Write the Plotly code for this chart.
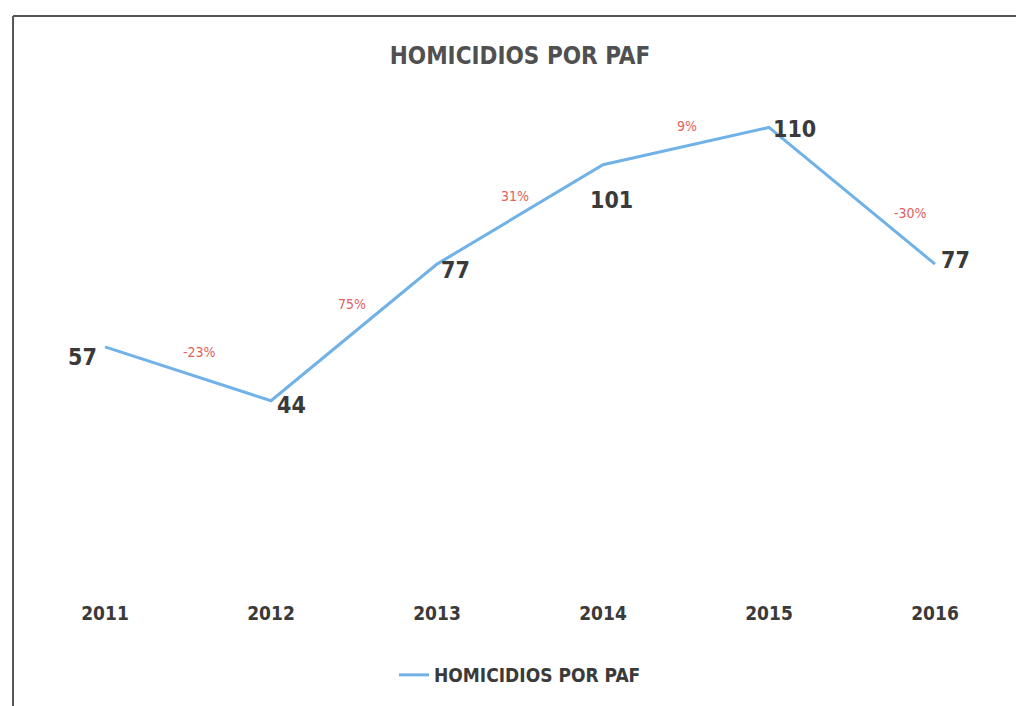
import plotly.graph_objects as go

years = [2011, 2012, 2013, 2014, 2015, 2016]
homicidios = [57, 44, 77, 101, 110, 77]
cambios = ['-23%', '75%', '31%', '9%', '-30%']

font_fam = "DejaVu Sans Condensed, Liberation Sans Narrow, Arial Narrow, sans-serif"

fig = go.Figure()
fig.add_trace(go.Scatter(
    x=years, y=homicidios,
    mode='lines',
    name='<b>HOMICIDIOS POR PAF</b>',
    line=dict(color='#70b2e8', width=3),
    cliponaxis=False,
))

# etiquetas de valor
val_shifts = [(-23, -10), (20, -4), (18, -6), (8, -35), (25, -2), (20, 4)]
for i, v in enumerate(homicidios):
    fig.add_annotation(
        x=years[i], y=v, text='<b>%d</b>' % v, showarrow=False,
        xshift=val_shifts[i][0], yshift=val_shifts[i][1],
        font=dict(family=font_fam, size=23, color='#3a3a3a'),
    )

# variacion anual, colocada entre cada par de años
shifts = [(11, 22), (-2, 28), (-5, 18), (1, 20), (58, -17)]
for i, lab in enumerate(cambios):
    fig.add_annotation(
        x=(years[i] + years[i + 1]) / 2,
        y=(homicidios[i] + homicidios[i + 1]) / 2,
        text=lab, showarrow=False,
        xshift=shifts[i][0], yshift=shifts[i][1],
        font=dict(family=font_fam, size=14, color='#e0605a'),
    )

fig.update_layout(
    width=1024, height=706,
    paper_bgcolor='white', plot_bgcolor='white',
    margin=dict(l=14, r=14, t=78, b=131),
    title=dict(text='<b>HOMICIDIOS POR PAF</b>', x=0.5, xanchor='center',
               y=1 - 48 / 706, yanchor='middle',
               font=dict(family=font_fam, size=24, color='#505050')),
    showlegend=True,
    legend=dict(orientation='h', x=0.5, xanchor='center', y=-(667 - 575) / 497, yanchor='middle',
                font=dict(family=font_fam, size=19, color='#3a3a3a'),
                itemwidth=30),
    xaxis=dict(range=[2010.5, 2016.5], tickmode='array', tickvals=years,
               ticktext=['<b>%d</b>' % y for y in years],
               showgrid=False, zeroline=False, showline=False, ticks='',
               ticklen=0, tickfont=dict(family=font_fam, size=19, color='#3a3a3a')),
    yaxis=dict(range=[0, 120], visible=False, showgrid=False, zeroline=False),
    font=dict(family=font_fam),
)
fig.update_xaxes(ticklabelstandoff=17)

# marco del grafico (sin borde inferior, queda fuera del escaneo)
x_izq, x_der, y_sup, y_inf = -0.009, 1.005, 1.141, -0.262
for x0, y0, x1, y1 in [(x_izq, y_inf, x_izq, y_sup), (x_izq, y_sup, x_der, y_sup),
                       (x_der, y_sup, x_der, y_inf)]:
    fig.add_shape(type='line', xref='paper', yref='paper', x0=x0, y0=y0, x1=x1, y1=y1,
                  line=dict(color='#555555', width=2))

fig.write_html("out.html")
